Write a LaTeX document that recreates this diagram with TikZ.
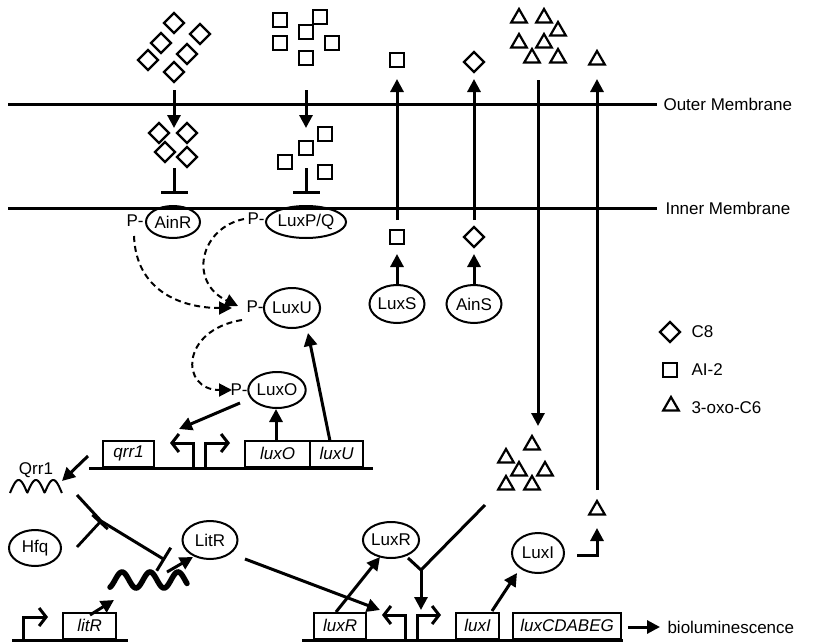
\documentclass[tikz,border=0pt]{standalone}
\usepackage{fontspec}
\setmainfont{Liberation Sans}
\usetikzlibrary{shapes.geometric,arrows.meta}
\begin{document}
\begin{tikzpicture}[x=1pt,y=-1pt,
  every node/.style={font=\fontsize{17}{20}\selectfont},
  memb/.style={line width=3pt},
  arr/.style={line width=3pt,-{Triangle[length=13pt,width=13pt]}},
  inh/.style={line width=3pt,-{Bar[width=27pt]}},
  inhs/.style={line width=2.8pt,-{Bar[width=21pt]}},
  dsh/.style={line width=2pt,dash pattern=on 6pt off 4pt,-{Triangle[length=13pt,width=13pt]}},
  prot/.style={ellipse,draw,line width=2pt,inner sep=0pt},
  dia/.style={diamond,draw,line width=2.2pt,minimum width=21pt,minimum height=21pt,inner sep=0pt},
  sq/.style={rectangle,draw,line width=2.2pt,minimum size=14pt,inner sep=0pt},
  tri/.style={regular polygon,regular polygon sides=3,draw,line width=2.2pt,minimum size=18pt,inner sep=0pt},
  gene/.style={rectangle,draw,line width=2.2pt,anchor=south west,inner sep=0pt,minimum height=26pt,font=\fontsize{17}{20}\selectfont\itshape},
  prom/.style={line width=3pt,-{Straight Barb[length=7pt,width=18pt]}},
  wave/.style={line width=2pt,line join=round},
]
\useasboundingbox (0,0) rectangle (831,643);

% membranes
\coordinate (oml) at (8,104); \coordinate (omr) at (657,104);
\coordinate (iml) at (8,208); \coordinate (imr) at (657,208);
\draw[memb] (oml) -- (omr);
\draw[memb] (iml) -- (imr);
\node[anchor=west] (omlab) at (660,104) {Outer Membrane};
\node[anchor=west] (imlab) at (662,208) {Inner Membrane};

% ---- C8 (diamonds) into AinR
\node[dia] (d1) at (174,23) {};
\node[dia] (d2) at (200,34) {};
\node[dia] (d3) at (161,43) {};
\node[dia] (d4) at (187,54) {};
\node[dia] (d5) at (148,60) {};
\node[dia] (d6) at (174,72) {};
\coordinate (dA) at (174,90); \coordinate (dB) at (174,128);
\draw[arr] (dA) -- (dB);
\node[dia] (d7) at (159,133) {};
\node[dia] (d8) at (187,133) {};
\node[dia] (d9) at (165,152) {};
\node[dia] (d10) at (187,157) {};
\coordinate (dC) at (174,168); \coordinate (dD) at (174,194);
\draw[inh] (dC) -- (dD);
\node[prot,minimum width=54pt,minimum height=32pt] (ainR) at (173,222) {AinR};
\node (pAinR) at (135,221) {P-};

% ---- AI-2 (squares) into LuxP/Q
\node[sq] (s1) at (280,20) {};
\node[sq] (s2) at (320,17) {};
\node[sq] (s3) at (306,32) {};
\node[sq] (s4) at (280,43) {};
\node[sq] (s5) at (332,43) {};
\node[sq] (s6) at (306,58) {};
\coordinate (sA) at (306,90); \coordinate (sB) at (306,128);
\draw[arr] (sA) -- (sB);
\node[sq] (s7) at (325,134) {};
\node[sq] (s8) at (306,148) {};
\node[sq] (s9) at (285,162) {};
\node[sq] (s10) at (325,172) {};
\coordinate (sC) at (306,168); \coordinate (sD) at (306,194);
\draw[inh] (sC) -- (sD);
\node[prot,minimum width=76pt,minimum height=32pt] (luxPQ) at (306,222) {LuxP/Q};
\node (pLuxPQ) at (256,219) {P-};

% ---- LuxS -> AI-2 export
\node[sq] (sqOut) at (397,60) {};
\node[sq] (sqIn) at (397,237) {};
\node[prot,minimum width=55pt,minimum height=38pt] (luxS) at (397,304) {LuxS};
\coordinate (sqInTop) at (397,220);
\draw[arr] (sqInTop) -- (397,79);
\draw[arr] (luxS.north) -- ++(0,-30);

% ---- AinS -> C8 export
\node[dia] (dOut) at (474,62) {};
\node[dia] (dIn) at (474,237) {};
\node[prot,minimum width=55pt,minimum height=38pt] (ainS) at (474,304) {AinS};
\coordinate (dInTop) at (474,220);
\draw[arr] (dInTop) -- (474,79);
\draw[arr] (ainS.north) -- ++(0,-30);

% ---- 3-oxo-C6 (triangles)
\node[tri] (t1) at (519,18) {};
\node[tri] (t2) at (544,18) {};
\node[tri] (t3) at (558,31) {};
\node[tri] (t4) at (519,43) {};
\node[tri] (t5) at (544,43) {};
\node[tri] (t6) at (532,58) {};
\node[tri] (t7) at (558,58) {};
\coordinate (tA) at (538,80); \coordinate (tB) at (538,426);
\draw[arr] (tA) -- (tB);
\node[tri] (t8) at (532,445) {};
\node[tri] (t9) at (506,458) {};
\node[tri] (t10) at (519,471) {};
\node[tri] (t11) at (545,471) {};
\node[tri] (t12) at (506,485) {};
\node[tri] (t13) at (532,485) {};
\node[tri] (tOut) at (597,60) {};
\node[tri] (tIn) at (597,510) {};
\coordinate (tC) at (597,490); \coordinate (tD) at (597,79);
\draw[arr] (tC) -- (tD);

% ---- legend
\node[dia] (legD) at (670,332) {};
\node[anchor=west] (legDt) at (688,332) {C8};
\node[sq] (legS) at (670,370) {};
\node[anchor=west] (legSt) at (688,370) {AI-2};
\node[tri] (legT) at (671,406) {};
\node[anchor=west] (legTt) at (688,408) {3-oxo-C6};

% ---- phosphorelay
\node[prot,minimum width=52pt,minimum height=40pt] (luxU) at (292,308) {LuxU};
\node (pLuxU) at (255,307) {P-};
\node[prot,minimum width=52pt,minimum height=36pt] (luxO) at (277,390) {LuxO};
\node (pLuxO) at (239,390) {P-};
\draw[dsh] (134,236) .. controls (136,290) and (180,308) .. (232,308);
\draw[dsh] (244,219) .. controls (200,228) and (188,282) .. (238,306);
\draw[dsh] (242,320) .. controls (180,330) and (180,390) .. (232,390);

% ---- qrr1 / luxOU locus
\coordinate (bl1) at (89,468); \coordinate (br1) at (373,468);
\draw[memb] (bl1) -- (br1);
\node[gene,minimum width=51pt] (qrr1) at (102,468) {qrr1};
\node[gene,minimum width=65pt] (luxOg) at (244,468) {luxO};
\node[gene,minimum width=53pt] (luxUg) at (309,468) {luxU};
\draw[prom] (193,469) -- (193,443) -- (170,443);
\draw[prom] (205,469) -- (205,443) -- (230,443);
\draw[arr] (276,441) -- (276,409);
\draw[arr] (330,441) -- (308,333);
\draw[arr] (240,403) -- (179,429);

% ---- Qrr1 sRNA, Hfq, LitR
\draw[arr] (88,456) -- (62,481);
\node (qrrlab) at (36,470) {Qrr1};
\draw[wave] plot[domain=0:3,samples=90] ({10+\x*17.3},{493-13*abs(sin(\x*180))});
\node[prot,minimum width=52pt,minimum height=36pt] (hfq) at (35,548) {Hfq};
\node[prot,minimum width=55pt,minimum height=38pt] (litR) at (210,540) {LitR};
\coordinate (j1) at (101,521);
\draw[inh,line join=round] (77,495) -- (j1) -- (165,560);
\draw[inhs] (77,547) -- (j1);
\draw[line width=5.5pt,line cap=round] plot[domain=110:187,samples=80] (\x,{580-8*cos((\x-122)/28*360)});
\draw[arr] (167,572) -- (193,557);

% ---- litR locus
\coordinate (bl2) at (12,640); \coordinate (br2) at (128,640);
\draw[memb] (bl2) -- (br2);
\node[gene,minimum width=53pt] (litRg) at (62,640) {litR};
\draw[prom] (23,641) -- (23,617) -- (48,617);
\draw[arr] (90,615) -- (114,600);

% ---- lux locus
\coordinate (bl3) at (302,640); \coordinate (br3) at (623,640);
\draw[memb] (bl3) -- (br3);
\node[gene,minimum width=52pt] (luxRg) at (313,640) {luxR};
\node[gene,minimum width=43pt] (luxIg) at (455,640) {luxI};
\node[gene,minimum width=108pt] (luxCg) at (512,640) {luxCDABEG};
\draw[prom] (405,641) -- (405,615) -- (382,615);
\draw[prom] (417,641) -- (417,615) -- (441,615);
\node[prot,minimum width=48pt,minimum height=36pt] (luxR) at (391,540) {LuxR};
\node[prot,minimum width=52pt,minimum height=40pt] (luxI) at (538,553) {LuxI};
\draw[arr] (245,559) -- (380,610);
\draw[arr] (336,612) -- (380,557);
\coordinate (j2) at (421,570);
\draw[line width=3pt] (408,558) -- (j2) -- (485,505);
\draw[arr] (j2) -- (421,610);
\draw[arr] (492,611) -- (517,573);
\draw[arr] (577,555) -- (597,555) -- (597,528);
\draw[arr] (628,627) -- (660,627);
\node[anchor=west] (biolum) at (664,627) {bioluminescence};
\end{tikzpicture}
\end{document}
